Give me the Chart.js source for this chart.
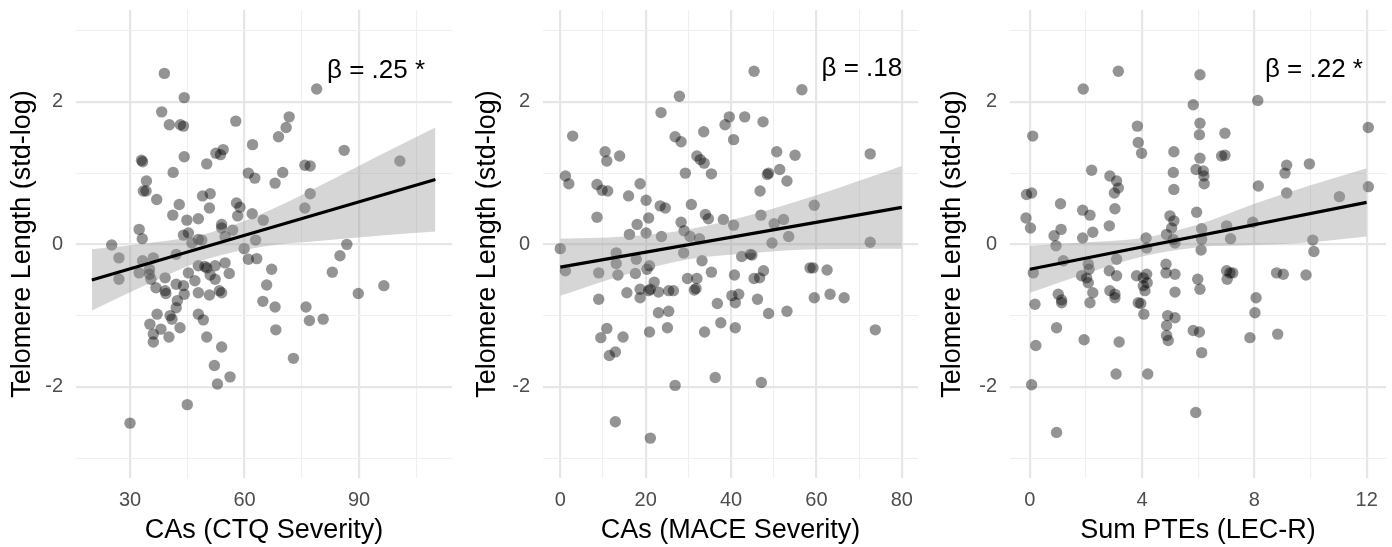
<!DOCTYPE html>
<html>
<head>
<meta charset="utf-8">
<script src="https://cdn.jsdelivr.net/npm/chart.js@4.4.1/dist/chart.umd.min.js"></script>
<style>
  html, body { margin: 0; padding: 0; background: #fff; }
  #wrap { position: relative; width: 1392px; height: 547px; }
  #wrap canvas { position: absolute; top: 0; }
</style>
</head>
<body>
<div id="wrap">
  <canvas id="ctq" width="460" height="547" style="left:0px"></canvas>
  <canvas id="mace" width="460" height="547" style="left:465px"></canvas>
  <canvas id="lec" width="462" height="547" style="left:930px"></canvas>
</div>
<script>
// ---- data ----
const ctqX = [39.0,44.2,38.3,40.3,43.2,44.0,57.7, 78.9,71.7,70.9,68.9,62.1,86.1,100.7,86.8,85.0,83.0,89.8,96.5,
  33.0,33.3,44.2,52.5,53.7,54.4,50.1,41.3,34.3,33.5,
  34.2,37.0,42.9,41.2,49.0,51.0,50.8,44.9,47.9,32.4,
  33.2,44.0,45.3,46.2,47.9,48.8,54.0,54.0,54.9,56.9,
  57.9,58.8,58.2,61.0,62.7,68.0,70.0,75.8,77.2,77.2,
  75.8,62.0,64.9,62.9,59.9,61.0,63.2,67.1,65.8,64.8,
  68.0,68.2,76.1,77.0,80.6,25.2,27.1,27.1,32.4,33.3,
  36.1,35.1,35.5,35.1,39.2,36.8,39.2,39.4,42.1,42.1,
  44.0,44.2,42.4,42.1,45.3,47.0,47.9,47.9,49.6,50.1,
  52.3,51.0,52.3,50.8,53.4,54.0,54.9,56.0,37.1,35.2,
  38.1,40.5,41.0,43.1,36.1,36.1,40.2,47.9,49.2,50.1,
  54.0, 30.0,45.0,52.9,52.1,56.2,72.8]
const ctqY = [2.40,2.06,1.86,1.68,1.68,1.66,1.73, 2.18,1.79,1.64,1.51,1.40,1.32,1.17,0.00,-0.16,-0.39,-0.69,-0.58,
  1.18,1.16,1.23,1.28,1.26,1.33,1.13,1.01,0.89,0.75,
  0.75,0.63,0.56,0.41,0.68,0.71,0.51,0.34,0.36,0.21,
  0.08,0.13,0.16,0.02,0.07,0.06,0.28,0.23,0.11,0.20,
  0.58,0.52,0.40,1.00,0.93,0.86,1.01,1.11,1.10,0.71,
  0.51,0.43,0.34,0.06,-0.06,-0.21,-0.20,-0.35,-0.57,-0.80,
  -0.88,-1.20,-0.88,-1.07,-1.05,-0.01,-0.19,-0.49,-0.40,-0.23,
  -0.19,-0.42,-0.49,-0.35,-0.47,-0.61,-0.65,-0.69,-0.14,-0.56,
  -0.58,-0.70,-0.79,-0.89,-0.40,-0.51,-0.68,-0.30,-0.31,-0.33,
  -0.30,-0.43,-0.49,-0.71,-0.65,-0.68,-0.26,-0.41,-0.98,-1.12,
  -1.19,-1.00,-1.05,-1.17,-1.26,-1.37,-1.30,-0.98,-1.06,-1.30,
  -1.44, -2.51,-2.25,-1.96,-1.70,-1.86,-1.60]

const maceX = [27.9,23.6,2.9,26.9,28.3,33.6,
  45.4,56.6,39.6,38.6,43.2,47.5,40.6,55.0,72.6,59.5,
  72.6,58.5,59.2,62.5,59.5,63.2,66.5,73.8,48.5,
  12.9,21.1,26.9,36.3,47.1,11.5,12.9,
  10.5,10.9,13.9,1.2,2.0,8.6,9.8,11.1,8.6,16.0,
  18.7,20.1,20.7,18.0,16.2,20.1,23.7,23.4,24.6,28.3,
  29.3,32.0,32.8,33.7,35.4,30.7,34.0,34.7,38.2,40.6,
  29.0,30.4,32.6,46.8,48.8,51.4,50.7,53.1,47.0,50.1,
  52.3,53.5,49.6,0.0,1.2,9.0,13.1,13.1,13.5,9.0,
  15.6,17.8,17.6,20.3,20.9,18.7,18.7,21.1,22.0,20.7,
  23.0,25.4,26.5,23.0,25.4,28.9,33.2,35.4,29.8,32.0,
  31.4,31.8,40.8,36.8,37.6,40.2,41.8,41.0,41.0,33.8,
  20.9,25.1,10.9,9.5,14.7,42.5,44.5,44.9,45.4,46.7,
  47.6,46.2,48.8,53.1]
const maceY = [2.08,1.85,1.52,1.51,1.44,1.58,
  2.43,2.17,1.79,1.68,1.79,1.72,1.47,1.25,1.27,0.55,
  0.03,-0.33,-0.33,-0.36,-0.75,-0.70,-0.75,-1.20,0.98,
  -2.49,-2.72,-1.98,-1.87,-1.94,-1.56,-1.51,
  1.30,1.17,1.24,0.96,0.85,0.84,0.76,0.75,0.38,0.68,
  0.85,0.62,0.37,0.28,0.14,0.16,0.11,0.54,0.51,0.31,
  1.00,1.24,1.19,1.14,0.99,0.56,0.42,0.36,0.35,0.27,
  0.19,0.11,0.08,0.75,1.00,1.05,1.30,0.89,0.41,0.29,
  0.35,0.11,0.02,-0.06,-0.37,-0.40,-0.12,-0.27,-0.43,-0.77,
  -0.68,-0.21,-0.41,-0.35,-0.30,-0.63,-0.75,-0.63,-0.53,-0.65,
  -0.67,-0.65,-0.65,-0.96,-0.94,-0.12,-0.23,-0.39,-0.48,-0.48,
  -0.64,-0.62,-0.43,-0.83,-1.10,-0.72,-0.70,-0.82,-1.17,-1.23,
  -1.23,-1.17,-1.18,-1.31,-1.30,-0.17,-0.14,-0.15,-0.48,-0.47,
  -0.37,-0.77,-0.97,-0.94]

const lecX = [3.15,1.90,0.10,3.83,3.86,
  6.06,8.12,5.82,6.06,6.04,6.95,12.06,9.15,9.09,9.96,
  8.14,9.15,11.03,12.06,10.08,10.12,8.79,9.03,9.84,8.83,
  0.06,0.95,3.07,4.20,5.91,6.12,
  3.98,5.13,2.20,2.85,3.09,3.15,3.01,3.03,5.11,5.13,
  6.06,5.92,6.18,6.20,6.21,6.83,6.95,-0.12,0.06,1.09,
  1.88,2.14,-0.14,0.02,0.86,1.11,0.93,1.88,2.24,2.83,
  1.19,0.12,0.18,1.01,1.13,1.13,0.95,0.21,1.93,3.18,
  2.08,2.11,1.84,2.02,2.08,2.24,2.14,2.83,3.09,3.09,
  2.85,3.03,3.03,3.80,4.04,4.16,4.04,4.18,4.10,3.86,
  3.95,4.06,4.14,4.16,4.87,5.11,5.17,4.99,5.13,5.05,
  5.94,6.12,6.12,6.10,4.85,4.85,5.17,5.17,4.91,5.17,
  4.87,4.87,4.93,5.98,6.06,5.82,6.04,7.01,7.15,7.01,
  7.13,7.23,7.03,7.94,8.06,8.02,7.84]
const lecY = [2.43,2.18,1.52,1.66,1.43,
  2.38,2.02,1.96,1.70,1.54,1.56,1.64,1.11,1.00,1.13,
  0.82,0.72,0.67,0.81,0.06,-0.10,-0.40,-0.42,-0.43,-1.26,
  -1.97,-2.64,-1.82,-1.82,-2.36,-1.52,
  1.28,1.30,1.04,0.96,0.89,0.79,0.72,0.50,1.01,0.77,
  1.21,1.05,1.03,0.96,0.85,1.24,1.25,0.70,0.72,0.57,
  0.48,0.41,0.37,0.23,0.12,0.21,-0.02,0.09,0.17,0.26,
  -0.23,-0.40,-0.84,-0.70,-0.78,-0.82,-1.17,-1.42,-1.34,-1.37,
  -0.28,-0.35,-0.44,-0.47,-0.54,-0.68,-0.82,-0.37,-0.44,-0.21,
  -0.65,-0.70,-0.75,-0.44,-0.47,-0.42,-0.58,-0.54,-0.65,-0.82,
  -0.83,-0.98,0.09,-0.05,0.14,0.07,0.02,0.40,0.33,0.23,
  0.45,0.22,0.07,-0.08,-0.28,-0.40,-0.42,-0.67,-1.00,-1.03,
  -1.14,-1.28,-1.35,-0.49,-0.63,-1.21,-1.23,0.26,0.08,-0.37,
  -0.40,-0.40,-0.49,0.31,-0.75,-0.96,-1.31]

// fitted line + 95% band (read at a few x positions)
const ctqFitX = [20, 110]
const ctqFitY = [-0.50, 0.91]
const ctqBandX = [20, 35, 50, 65, 80, 95, 110]
const ctqBandHi = [-0.07, 0.02, 0.15, 0.44, 0.83, 1.24, 1.64]
const ctqBandLo = [-0.93, -0.55, -0.21, -0.03, 0.05, 0.12, 0.18]

const maceFitX = [0, 80]
const maceFitY = [-0.32, 0.52]
const maceBandX = [0, 15, 30, 45, 60, 80]
const maceBandHi = [0.08, 0.11, 0.21, 0.42, 0.69, 1.10]
const maceBandLo = [-0.72, -0.43, -0.21, -0.12, -0.07, -0.06]

const lecFitX = [0, 12]
const lecFitY = [-0.35, 0.59]
const lecBandX = [0, 2, 4, 6, 8, 10, 12]
const lecBandHi = [-0.02, 0.03, 0.09, 0.28, 0.57, 0.83, 1.07]
const lecBandLo = [-0.68, -0.41, -0.17, -0.04, -0.01, 0.03, 0.11]

// ticks (major get labels, minor only grid)
const yTicks = [-3, -2, -1, 0, 1, 2, 3]
const yMajor = [-2, 0, 2]
const ctqTicks = [30, 45, 60, 75, 90, 105]
const ctqMajor = [30, 60, 90]
const maceTicks = [0, 10, 20, 30, 40, 50, 60, 70, 80]
const maceMajor = [0, 20, 40, 60, 80]
const lecTicks = [0, 2, 4, 6, 8, 10, 12]
const lecMajor = [0, 4, 8, 12]

const yTitle = 'Telomere Length (std-log)'

Chart.defaults.font.family = '"Liberation Sans", Arial, sans-serif'

const zip = (xs, ys) => xs.map((x, i) => ({x: x, y: ys[i]}))

// beta text in the top right of each panel
const betaLabel = {
    id: 'betaLabel',
    afterDatasetsDraw(chart, args, opts) {
        const {ctx, scales} = chart
        ctx.save()
        ctx.font = '26px "Liberation Sans", Arial, sans-serif'
        ctx.fillStyle = '#000'
        ctx.textAlign = 'right'
        ctx.textBaseline = 'alphabetic'
        ctx.fillText(opts.text, scales.x.getPixelForValue(opts.x), scales.y.getPixelForValue(opts.y))
        ctx.restore()
    }
}

function makePanel(id, p) {
    const gridW = (major) => (c) => (c.tick && major.includes(c.tick.value)) ? 2.2 : 1.1
    const gridC = (major) => (c) => (c.tick && major.includes(c.tick.value)) ? '#e6e6e6' : '#efefef'

    return new Chart(document.getElementById(id), {
        type: 'scatter',
        data: {
            datasets: [
                {
                    type: 'line',
                    data: zip(p.bandX, p.bandHi),
                    borderWidth: 0,
                    pointRadius: 0,
                    cubicInterpolationMode: 'monotone',
                    backgroundColor: 'rgba(153,153,153,0.4)',
                    fill: '+1',
                    order: 2
                },
                {
                    type: 'line',
                    data: zip(p.bandX, p.bandLo),
                    borderWidth: 0,
                    pointRadius: 0,
                    cubicInterpolationMode: 'monotone',
                    fill: false,
                    order: 2
                },
                {
                    type: 'line',
                    data: zip(p.fitX, p.fitY),
                    borderColor: '#000',
                    borderWidth: 3.2,
                    pointRadius: 0,
                    fill: false,
                    order: 1
                },
                {
                    data: zip(p.xs, p.ys),
                    pointRadius: 5.7,
                    pointHoverRadius: 5.7,
                    pointBackgroundColor: 'rgba(0,0,0,0.42)',
                    pointBorderWidth: 0,
                    order: 3
                }
            ]
        },
        options: {
            responsive: false,
            animation: false,
            layout: { padding: { top: 10, right: p.padRight, left: 0, bottom: 0 } },
            plugins: {
                legend: { display: false },
                tooltip: { enabled: false },
                betaLabel: { text: p.beta, x: p.betaX, y: p.betaY }
            },
            scales: {
                x: {
                    type: 'linear',
                    min: p.xMin,
                    max: p.xMax,
                    afterBuildTicks: (s) => { s.ticks = p.xTicks.map(v => ({value: v})) },
                    afterFit: (s) => {
                        s.height = 69
                        s.paddingLeft = 0
                        s.paddingRight = 0
                    },
                    border: { display: false },
                    grid: { drawTicks: false, lineWidth: gridW(p.xMajor), color: gridC(p.xMajor) },
                    ticks: {
                        autoSkip: false,
                        maxRotation: 0,
                        padding: 10,
                        color: '#4d4d4d',
                        font: { size: 20 },
                        callback: (v) => p.xMajor.includes(v) ? String(v) : ''
                    },
                    title: {
                        display: true,
                        text: p.xTitle,
                        color: '#000',
                        font: { size: 27 },
                        padding: { top: 0, bottom: 0 }
                    }
                },
                y: {
                    type: 'linear',
                    min: -3.28,
                    max: 3.29,
                    afterBuildTicks: (s) => { s.ticks = yTicks.map(v => ({value: v})) },
                    afterFit: (s) => {
                        s.width = p.yWidth
                        s.paddingTop = 0
                        s.paddingBottom = 0
                    },
                    border: { display: false },
                    grid: { drawTicks: false, lineWidth: gridW(yMajor), color: gridC(yMajor) },
                    ticks: {
                        padding: 13,
                        color: '#4d4d4d',
                        font: { size: 20 },
                        callback: (v) => yMajor.includes(v) ? String(v) : ''
                    },
                    title: {
                        display: true,
                        text: yTitle,
                        color: '#000',
                        font: { size: 27 },
                        padding: { top: 6, bottom: 0 }
                    }
                }
            }
        },
        plugins: [betaLabel]
    })
}

makePanel('ctq', {
    xs: ctqX, ys: ctqY,
    fitX: ctqFitX, fitY: ctqFitY,
    bandX: ctqBandX, bandHi: ctqBandHi, bandLo: ctqBandLo,
    xMin: 15.85, xMax: 114.35,
    xTicks: ctqTicks, xMajor: ctqMajor,
    xTitle: 'CAs (CTQ Severity)',
    beta: 'β = .25 *', betaX: 107.3, betaY: 2.34,
    yWidth: 76, padRight: 8
})

makePanel('mace', {
    xs: maceX, ys: maceY,
    fitX: maceFitX, fitY: maceFitY,
    bandX: maceBandX, bandHi: maceBandHi, bandLo: maceBandLo,
    xMin: -4.05, xMax: 83.8,
    xTicks: maceTicks, xMajor: maceMajor,
    xTitle: 'CAs (MACE Severity)',
    beta: 'β = .18', betaX: 80.1, betaY: 2.36,
    yWidth: 78, padRight: 7
})

makePanel('lec', {
    xs: lecX, ys: lecY,
    fitX: lecFitX, fitY: lecFitY,
    bandX: lecBandX, bandHi: lecBandHi, bandLo: lecBandLo,
    xMin: -0.71, xMax: 12.69,
    xTicks: lecTicks, xMajor: lecMajor,
    xTitle: 'Sum PTEs (LEC-R)',
    beta: 'β = .22 *', betaX: 11.87, betaY: 2.35,
    yWidth: 80, padRight: 6
})
</script>
</body>
</html>
